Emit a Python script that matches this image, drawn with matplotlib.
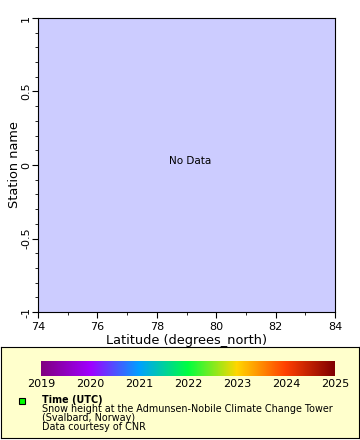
import numpy as np
import matplotlib
matplotlib.use("Agg")
import matplotlib.pyplot as plt
from matplotlib.colors import LinearSegmentedColormap
from matplotlib.patches import Rectangle

# axis ranges and labels
lat_range = [74, 84]
lat_ticks = [74, 76, 78, 80, 82, 84]
y_range = [-1, 1]
y_ticks = [-1, -0.5, 0, 0.5, 1]
y_ticklabels = ["-1", "-0.5", "0", "0.5", "1"]
years = [2019, 2020, 2021, 2022, 2023, 2024, 2025]

cmap_colors = ["#800080", "#a000ff", "#00a0ff", "#00ff40", "#ffd700", "#ff4000", "#800000"]
cmap = LinearSegmentedColormap.from_list("time", cmap_colors)

plt.rcParams['font.family'] = ['DejaVu Sans']

fig = plt.figure(figsize=(3.6, 4.4), dpi=100)
ax = fig.add_axes([38/360, 1 - 312/440, 297/360, 294/440])
ax.set_facecolor("#ccccff")
ax.set_xlim(lat_range)
ax.set_ylim(y_range)
ax.set_xticks(lat_ticks)
ax.set_xticks(np.arange(74, 85, 1), minor=True)
ax.set_yticks(y_ticks)
ax.set_yticklabels(y_ticklabels, rotation=90, va="center")
ax.set_yticks(np.arange(-1, 1.01, 0.1), minor=True)
ax.tick_params(labelsize=8, length=4, direction="out")
ax.tick_params(axis="y", pad=1)
ax.tick_params(which="minor", length=2)
ax.set_xlabel("Latitude (degrees_north)", fontsize=9.3, labelpad=1)
ax.set_ylabel("Station name", fontsize=9.3, labelpad=0)
ax.text(0.513, 0.513, "No Data", transform=ax.transAxes, ha="center", va="center", fontsize=7.5)

# legend panel
leg = fig.add_axes([1/360, 2/440, 358/360, 91/440])
leg.set_xlim(0, 358)
leg.set_ylim(91, 0)
leg.set_facecolor("#ffffcc")
leg.set_xticks([])
leg.set_yticks([])

cax = fig.add_axes([41/360, 1 - 376/440, 294/360, 15/440])
grad = np.linspace(0, 1, 256).reshape(1, -1)
cax.imshow(grad, aspect="auto", cmap=cmap, extent=[years[0], years[-1], 0, 1])
cax.set_yticks([])
cax.set_xticks(years)
cax.tick_params(axis="x", length=0, labelsize=8, pad=2)
for s in cax.spines.values():
    s.set_visible(False)

leg.add_patch(Rectangle((18, 51), 6, 6, facecolor="#00ff00", edgecolor="black", lw=0.8))
leg.text(41, 53, "Time (UTC)", fontsize=6.9, fontweight="bold", va="center")
leg.text(41, 62, "Snow height at the Admunsen-Nobile Climate Change Tower", fontsize=6.9, va="center")
leg.text(41, 71, "(Svalbard, Norway)", fontsize=6.9, va="center")
leg.text(41, 80, "Data courtesy of CNR", fontsize=6.9, va="center")

fig.savefig("out.png", dpi=100)
